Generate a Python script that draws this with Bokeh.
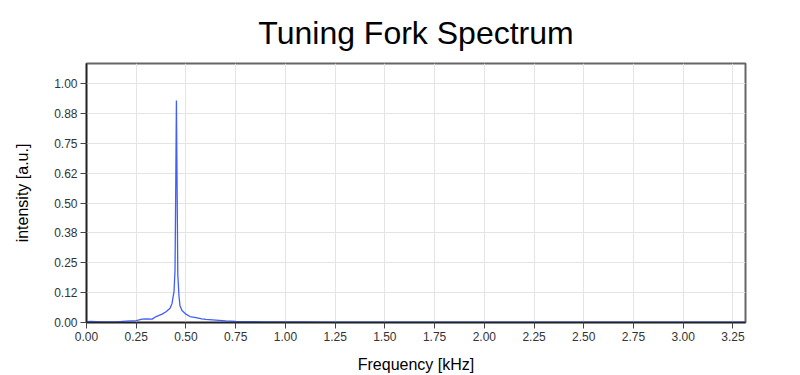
from bokeh.plotting import figure
from bokeh.models import FixedTicker, Range1d, NumeralTickFormatter
from bokeh.embed import file_html
from bokeh.resources import INLINE

# --- data ---
freq_khz = [0.00, 0.02, 0.05, 0.08, 0.10, 0.15, 0.20, 0.25, 0.28, 0.30, 0.33, 0.35,
            0.38, 0.40, 0.42, 0.43, 0.44, 0.445, 0.449, 0.452, 0.455, 0.459, 0.465,
            0.47, 0.48, 0.50, 0.52, 0.55, 0.58, 0.60, 0.65, 0.70, 0.75, 0.80, 0.90,
            1.00, 1.10, 1.20, 1.40, 1.60, 1.80, 2.00, 2.20, 2.40, 2.60, 2.80, 3.00,
            3.20, 3.31]
intensity = [0.004, 0.005, 0.004, 0.003, 0.002, 0.003, 0.006, 0.008, 0.014, 0.015,
             0.014, 0.025, 0.035, 0.045, 0.060, 0.080, 0.130, 0.220, 0.600, 0.930,
             0.620, 0.200, 0.110, 0.070, 0.050, 0.035, 0.025, 0.020, 0.015, 0.013,
             0.010, 0.007, 0.005, 0.004, 0.003, 0.002, 0.002, 0.001, 0.001, 0.001,
             0.001, 0.001, 0.001, 0.001, 0.001, 0.001, 0.001, 0.001, 0.001]

x_ticks = [0.0, 0.25, 0.5, 0.75, 1.0, 1.25, 1.5, 1.75, 2.0, 2.25, 2.5, 2.75, 3.0, 3.25]
y_ticks = [0.0, 0.125, 0.25, 0.375, 0.5, 0.625, 0.75, 0.875, 1.0]
y_tick_labels = ["0.00", "0.12", "0.25", "0.38", "0.50", "0.62", "0.75", "0.88", "1.00"]

FONT = "Liberation Sans"

p = figure(width=800, height=375, output_backend="svg", toolbar_location=None,
           x_range=Range1d(0, 3.313), y_range=Range1d(0, 1.085),
           title="Tuning Fork Spectrum",
           min_border_left=86, min_border_right=55, min_border_bottom=53,
           min_border_top=62)

p.line(freq_khz, intensity, line_color="#3f5efb", line_width=1.3)

p.title.align = "center"
p.title.text_font = FONT
p.title.text_font_size = "32px"
p.title.text_font_style = "normal"
p.title.text_color = "#000000"
p.title.standoff = 25
p.title.offset = -6

p.xaxis.ticker = FixedTicker(ticks=x_ticks)
p.xaxis.formatter = NumeralTickFormatter(format="0.00")
p.yaxis.ticker = FixedTicker(ticks=y_ticks)
p.yaxis.major_label_overrides = {t: l for t, l in zip(y_ticks, y_tick_labels)}

p.xaxis.axis_label = "Frequency [kHz]"
p.yaxis.axis_label = "intensity [a.u.]"

for ax in (p.xaxis, p.yaxis):
    ax.axis_label_text_font = FONT
    ax.axis_label_text_font_size = "16px"
    ax.axis_label_text_font_style = "normal"
    ax.axis_label_text_color = "#000000"
    ax.major_label_text_font = FONT
    ax.major_label_text_font_size = "12px"
    ax.major_label_text_color = "#333333"
    ax.axis_line_color = "#222222"
    ax.axis_line_width = 1.5
    ax.major_tick_line_color = "#444444"
    ax.major_tick_out = 6
    ax.major_tick_in = 0
    ax.minor_tick_line_color = None
    ax.major_label_standoff = 3

p.xaxis.axis_label_standoff = 12
p.yaxis.axis_label_standoff = 20

p.xgrid.ticker = FixedTicker(ticks=x_ticks)
p.ygrid.ticker = FixedTicker(ticks=y_ticks)
p.grid.grid_line_color = "#e4e4e4"
p.grid.grid_line_width = 1

p.outline_line_color = "#666666"
p.outline_line_width = 2
p.background_fill_color = "#ffffff"
p.border_fill_color = "#ffffff"

open("out.html", "w").write(file_html(p, INLINE))
